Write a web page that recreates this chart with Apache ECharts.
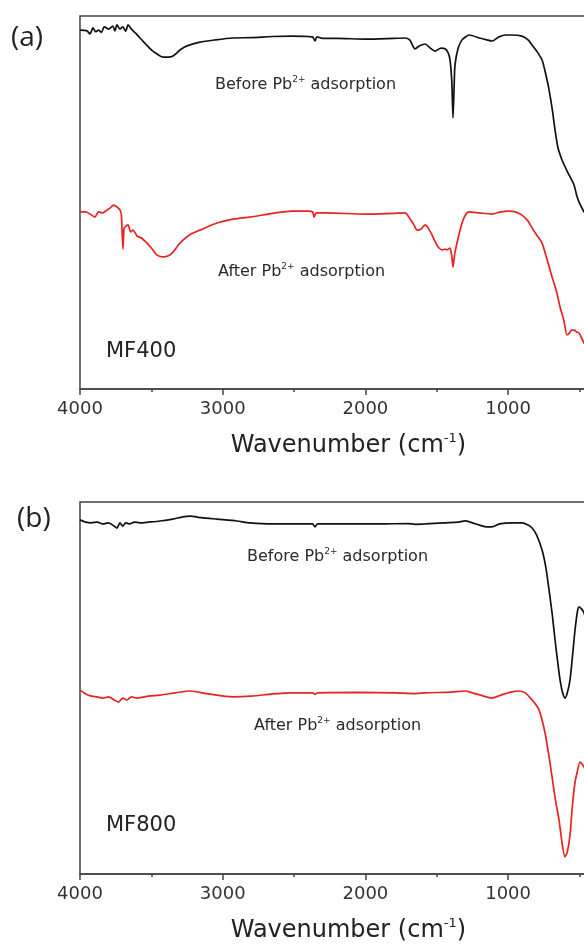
<!DOCTYPE html>
<html>
<head>
<meta charset="utf-8">
<script src="https://cdn.jsdelivr.net/npm/echarts@6/dist/echarts.min.js"></script>
<style>
html,body{margin:0;padding:0;background:#fff;}
#chart{width:584px;height:945px;}
</style>
</head>
<body>
<div id="chart"></div>
<script>
// ---------- DATA (wavenumber in cm^-1, transmittance in arbitrary units, offset curves) ----------
var xTicks = [4000, 3000, 2000, 1000];

// Panel (a) MF400, before Pb2+ adsorption (black)
var aBeforeWn = [4000,3950,3930,3909,3890,3870,3850,3830,3800,3770,3755,3741,3720,3700,3680,3663,3640,3610,3580,3540,3500,3460,3420,3380,3348,3320,3300,3250,3160,3050,2928,2800,2650,2514,2400,2370,2353,2340,2300,2200,2000,1800,1723,1690,1652,1620,1582,1545,1512,1470,1442,1420,1407,1395,1386,1378,1372,1350,1323,1290,1274,1200,1150,1113,1064,1020,973,903,860,832,800,762,735,713,690,671,650,622,590,573,538,520,503,468,440,400];
var aBeforeT  = [96.2,96.0,95.2,96.8,95.8,96.2,95.6,97.1,96.5,97.3,96.0,97.6,96.5,97.1,95.9,97.6,96.5,95.4,94.1,92.5,90.9,89.8,89.0,89.0,89.3,90.1,90.9,92.0,93.0,93.6,94.1,94.2,94.5,94.6,94.5,94.4,93.3,94.4,94.0,94.0,93.8,94.0,94.1,93.6,91.2,92.0,92.5,91.4,90.6,91.4,91.2,90.1,88.2,82.8,72.7,81.5,86.9,91.4,93.6,94.6,94.9,94.1,93.6,93.3,94.4,94.9,94.9,94.6,93.6,92.2,90.6,88.2,84.2,80.2,74.8,69.4,64.6,61.4,58.7,57.4,54.7,52.0,50.1,47.5,45.8,44.8];

// Panel (a) MF400, after Pb2+ adsorption (red)
var aAfterWn = [4000,3960,3930,3895,3870,3840,3810,3790,3766,3740,3720,3710,3699,3692,3685,3663,3645,3628,3600,3570,3530,3500,3460,3418,3380,3348,3310,3278,3220,3159,3040,2920,2809,2650,2514,2400,2370,2360,2345,2283,2000,1800,1723,1690,1660,1638,1610,1582,1560,1533,1510,1484,1460,1440,1428,1407,1395,1386,1378,1372,1350,1323,1300,1274,1200,1113,1050,994,950,903,860,832,800,762,730,692,660,636,610,587,570,555,538,520,503,485,468,440,400];
var aAfterT  = [47.5,47.5,46.9,46.1,47.5,47.2,48.0,48.5,49.3,48.8,48.0,46.6,37.5,42.9,43.4,44.0,42.1,42.6,41.0,40.5,39.1,37.8,35.9,35.4,35.7,36.7,38.6,39.9,41.6,42.6,44.5,45.6,46.1,47.1,47.7,47.7,47.5,46.1,47.2,47.2,46.9,47.1,47.2,45.8,44.0,42.6,42.9,44.0,43.2,41.3,39.4,37.8,37.3,37.5,37.3,37.8,35.7,32.7,35.1,36.7,40.5,44.5,46.6,47.5,47.2,46.9,47.5,47.7,47.5,46.6,45.0,43.2,41.3,39.1,35.1,30.0,26.0,22.0,18.5,14.5,15.0,15.8,15.8,15.3,15.0,13.7,12.3,11.5,11.0];

// Panel (b) MF800, before Pb2+ adsorption (black)
var bBeforeWn = [4000,3960,3920,3880,3840,3800,3760,3741,3720,3700,3680,3650,3620,3580,3520,3440,3350,3280,3229,3150,3040,2900,2809,2650,2514,2400,2370,2353,2335,2200,2045,1900,1700,1650,1582,1450,1350,1302,1250,1200,1150,1113,1060,973,903,860,832,800,762,735,713,690,671,650,636,618,601,585,566,548,531,515,503,485,468,440,400];
var bBeforeT  = [95.2,94.6,94.4,94.6,94.1,94.4,93.5,93.0,94.4,93.5,94.4,94.1,94.6,94.4,94.6,94.9,95.4,96.0,96.2,95.8,95.4,94.9,94.4,94.1,94.1,94.1,94.1,93.3,94.1,94.1,94.1,94.1,94.2,94.0,94.1,94.4,94.6,94.9,94.4,93.8,93.3,93.3,94.1,94.4,94.4,93.8,93.0,91.1,87.1,82.3,76.3,69.6,62.9,56.2,52.2,48.7,47.3,48.7,52.2,58.9,65.6,70.4,71.8,71.2,70.2,65.6,60.2];

// Panel (b) MF800, after Pb2+ adsorption (red)
var bAfterWn = [4000,3960,3920,3880,3840,3800,3760,3730,3700,3670,3640,3600,3520,3440,3330,3229,3100,2928,2800,2650,2514,2370,2353,2335,2045,1800,1650,1582,1400,1302,1250,1150,1113,1050,980,924,880,832,800,783,762,741,715,692,668,643,620,601,585,566,552,534,517,496,468,440,400];
var bAfterT  = [49.5,48.4,47.8,47.6,47.3,47.6,46.8,46.2,47.3,46.8,47.6,47.3,47.8,48.1,48.7,49.2,48.4,47.6,47.8,48.4,48.7,48.7,48.3,48.7,48.8,48.7,48.5,48.7,48.9,49.2,48.7,47.6,47.3,48.1,48.9,49.2,48.7,46.8,45.2,44.1,41.4,37.9,32.0,26.1,19.9,14.5,7.8,4.6,5.9,10.5,17.2,23.9,27.2,30.1,28.8,25.3,21.2];

function pairs(xs, ys){ return xs.map(function(x,i){ return [x, ys[i]]; }); }

// ---------- CHART ----------
var chart = echarts.init(document.getElementById('chart'), null, {renderer:'canvas'});
var FONT = 'DejaVu Sans';
var axisCol = '#444';
var txtCol = '#2a2a2a';
var pxPer1000 = 142.7;
var gridWidth = 4 * pxPer1000;

function xAxisDef(gi){
  return {
    gridIndex: gi, type:'value', inverse:true, min:0, max:4000, interval:1000,
    axisLine:{show:true, onZero:false, lineStyle:{color:axisCol, width:1.5}},
    axisTick:{show:true, length:6, lineStyle:{color:axisCol, width:1.5}},
    minorTick:{show:true, splitNumber:2, length:3, lineStyle:{color:axisCol, width:1.5}},
    splitLine:{show:false}, minorSplitLine:{show:false},
    axisLabel:{show:true, margin:11, color:'#333', fontFamily:FONT, fontSize:18,
      showMinLabel:true, showMaxLabel:true, hideOverlap:false,
      formatter:function(v){ return (xTicks.indexOf(v) >= 0) ? String(v) : ''; }},
    name:'Wavenumber (cm{sup|-1}{n|)}',
    nameLocation:'middle', nameGap:43,
    nameTextStyle:{color:'#222', fontFamily:FONT, fontSize:24, lineHeight:28, padding:[0,34,0,0],
      rich:{ sup:{fontFamily:FONT, fontSize:13, lineHeight:28, verticalAlign:'top', color:'#222'},
             n:{fontFamily:FONT, fontSize:24, lineHeight:28, color:'#222'} }}
  };
}
function yAxisDef(gi){
  return {
    gridIndex: gi, type:'value', min:0, max:100,
    axisLine:{show:true, lineStyle:{color:axisCol, width:1.5}},
    axisTick:{show:false}, axisLabel:{show:false}, splitLine:{show:false}
  };
}
function lineSeries(gi, data, color){
  return {
    type:'line', xAxisIndex:gi, yAxisIndex:gi, data:data, showSymbol:false, smooth:0.25,
    lineStyle:{color:color, width:1.7}, itemStyle:{color:color}, silent:true, animation:false, clip:true
  };
}
function richLabel(x, y, before){
  return {
    type:'text', left:x, top:y - 10, silent:true,
    style:{
      text:(before ? 'Before' : 'After') + ' Pb{sup|2+} adsorption',
      fill:txtCol, font:'16px ' + FONT, lineHeight:20,
      rich:{ sup:{fontSize:9, fontFamily:FONT, lineHeight:20, verticalAlign:'top', fill:txtCol} }
    }
  };
}
function plainText(x, y, txt, size, family){
  return { type:'text', left:x, top:y - size*0.62, silent:true,
    style:{ text:txt, fill:'#222', font: size + 'px ' + family } };
}

var option = {
  backgroundColor:'#fff',
  animation:false,
  grid:[
    {left:80, top:16, width:gridWidth, height:373, show:true, borderColor:axisCol, borderWidth:1.5, backgroundColor:'transparent', containLabel:false, outerBoundsMode:'none'},
    {left:80, top:502, width:gridWidth, height:372, show:true, borderColor:axisCol, borderWidth:1.5, backgroundColor:'transparent', containLabel:false, outerBoundsMode:'none'}
  ],
  xAxis:[xAxisDef(0), xAxisDef(1)],
  yAxis:[yAxisDef(0), yAxisDef(1)],
  series:[
    lineSeries(0, pairs(aBeforeWn, aBeforeT), '#111111'),
    lineSeries(0, pairs(aAfterWn, aAfterT), '#e8231f'),
    lineSeries(1, pairs(bBeforeWn, bBeforeT), '#111111'),
    lineSeries(1, pairs(bAfterWn, bAfterT), '#e8231f')
  ],
  graphic:[
    richLabel(215, 85, true),
    richLabel(218, 272, false),
    richLabel(247, 557, true),
    richLabel(254, 726, false),
    plainText(106, 354, 'MF400', 21, FONT),
    plainText(106, 828, 'MF800', 21, FONT),
    plainText(11, 41, '(a)', 28, '"Open Sans"'),
    plainText(17, 522, '(b)', 28, '"Open Sans"')
  ]
};
chart.setOption(option);
</script>
</body>
</html>
